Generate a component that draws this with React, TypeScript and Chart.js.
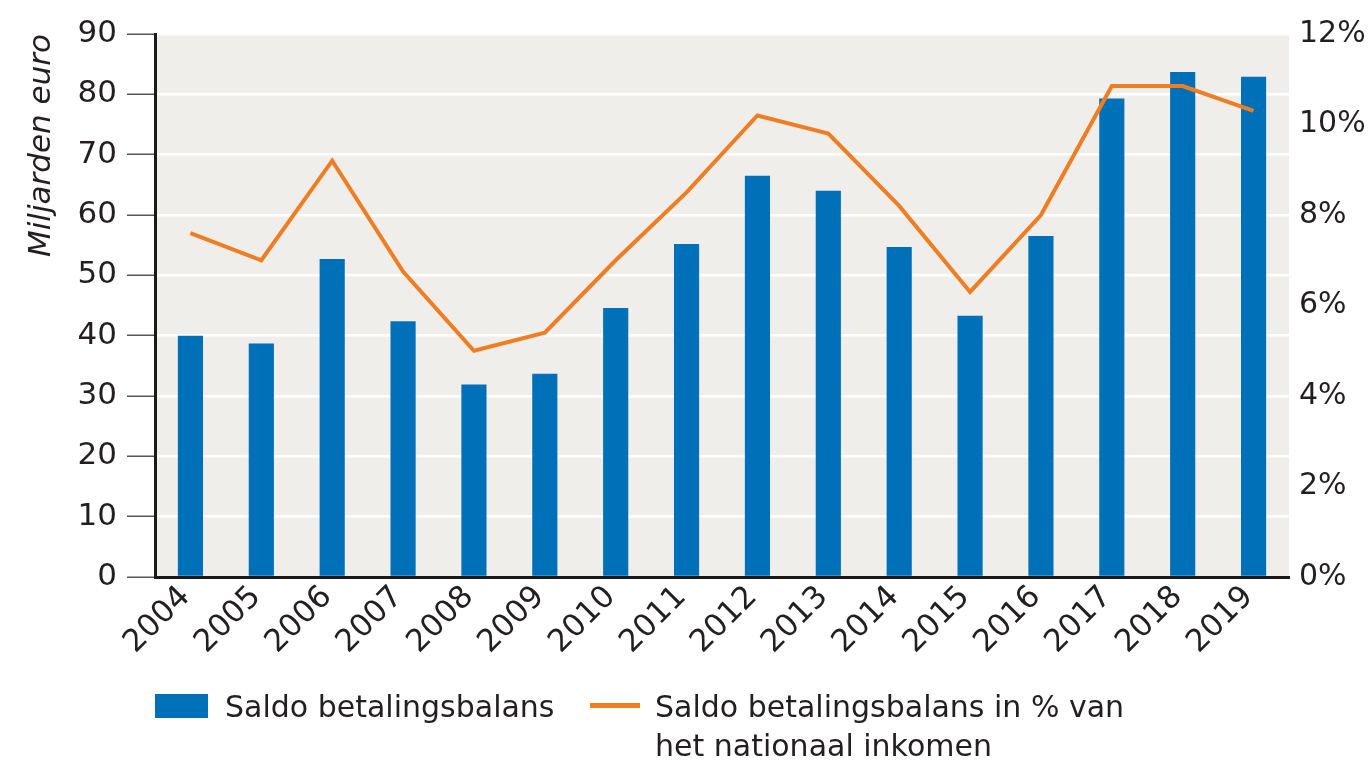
import React, { useEffect, useRef } from "react";
import { Chart, registerables } from "chart.js";

Chart.register(...registerables);

const years = ["2004","2005","2006","2007","2008","2009","2010","2011","2012","2013","2014","2015","2016","2017","2018","2019"];
const saldo = [40.0, 38.7, 52.7, 42.4, 31.9, 33.7, 44.6, 55.2, 66.5, 64.0, 54.7, 43.3, 56.5, 79.3, 83.7, 82.9];
const saldoPct = [7.6, 7.0, 9.2, 6.75, 5.0, 5.4, 7.0, 8.5, 10.2, 9.8, 8.2, 6.3, 8.0, 10.85, 10.85, 10.3];
const leftTicks = [0, 10, 20, 30, 40, 50, 60, 70, 80, 90];
const rightTicks = [0, 2, 4, 6, 8, 10, 12];

const barLabel = "Saldo betalingsbalans";
const lineLabelLines = ["Saldo betalingsbalans in % van", "het nationaal inkomen"];
const yTitle = "Miljarden euro";

const FONT = "'DejaVu Sans', Verdana, sans-serif";
const TEXT = "#231f20";
const BLUE = "#0070b8";
const ORANGE = "#ef7d22";
const BG = "#efeeeb";

const bgPlugin = {
  id: "plotBg",
  beforeDraw(chart: any) {
    const { ctx, chartArea } = chart;
    if (!chartArea) return;
    ctx.save();
    ctx.fillStyle = BG;
    ctx.fillRect(chartArea.left, chartArea.top, chartArea.right - chartArea.left, chartArea.bottom - chartArea.top);
    ctx.restore();
  },
};

export default function App() {
  const ref = useRef<HTMLCanvasElement | null>(null);

  useEffect(() => {
    if (!ref.current) return;
    const chart = new Chart(ref.current, {
      type: "bar",
      data: {
        labels: years,
        datasets: [
          {
            type: "line" as const,
            label: lineLabelLines.join(" "),
            data: saldoPct,
            yAxisID: "y1",
            borderColor: ORANGE,
            backgroundColor: ORANGE,
            borderWidth: 4,
            pointRadius: 0,
            tension: 0,
            order: 0,
          },
          {
            type: "bar" as const,
            label: barLabel,
            data: saldo,
            yAxisID: "y",
            backgroundColor: BLUE,
            categoryPercentage: 1,
            barPercentage: 0.355,
            order: 1,
          },
        ],
      },
      options: {
        animation: false,
        responsive: false,
        maintainAspectRatio: false,
        layout: { padding: { left: 0, right: 0, top: 34, bottom: 0 } },
        plugins: {
          legend: { display: false },
          tooltip: { enabled: false },
        },
        scales: {
          x: {
            grid: { display: false, drawTicks: false },
            border: { display: true, color: "#1a1a1a", width: 3 },
            ticks: {
              color: TEXT,
              font: { family: FONT, size: 31 },
              minRotation: 45,
              maxRotation: 45,
              padding: 2,
              labelOffset: -5,
              autoSkip: false,
            },
            afterFit: (s: any) => { s.height = 113; },
          },
          y: {
            position: "left",
            min: 0,
            max: 90,
            afterBuildTicks: (s: any) => { s.ticks = leftTicks.map((v) => ({ value: v })); },
            grid: {
              color: "#ffffff",
              lineWidth: 2.5,
              tickColor: "#555555",
              tickLength: 28,
              tickWidth: 1.5,
            },
            border: { display: true, color: "#1a1a1a", width: 3 },
            ticks: {
              color: TEXT,
              font: { family: FONT, size: 31 },
              padding: 10,
            },
            title: {
              display: true,
              text: yTitle,
              align: "end",
              color: TEXT,
              font: { family: FONT, size: 31, style: "italic" },
              padding: { top: 23, bottom: 0 },
            },
            afterFit: (s: any) => { s.width = 155; },
          },
          y1: {
            position: "right",
            min: 0,
            max: 12,
            afterBuildTicks: (s: any) => { s.ticks = rightTicks.map((v) => ({ value: v })); },
            grid: { drawOnChartArea: false, drawTicks: false },
            border: { display: false },
            ticks: {
              color: TEXT,
              font: { family: FONT, size: 30 },
              padding: 10,
              callback: (v: any) => v + "%",
            },
            afterFit: (s: any) => { s.width = 80; },
          },
        },
      },
      plugins: [bgPlugin],
    });
    return () => chart.destroy();
  }, []);

  return (
    <div style={{ position: "fixed", left: 0, top: 0, width: 1369, height: 760, background: "#fff", fontFamily: FONT, color: TEXT }}>
      <canvas ref={ref} width={1369} height={690} style={{ position: "absolute", left: 0, top: 0, width: 1369, height: 690 }} />
      <div style={{ position: "absolute", left: 155, top: 694, width: 53, height: 24, background: BLUE }} />
      <div style={{ position: "absolute", left: 225, top: 687, fontSize: 30, lineHeight: "39px", whiteSpace: "nowrap" }}>{barLabel}</div>
      <div style={{ position: "absolute", left: 590, top: 703, width: 50, height: 5, background: ORANGE }} />
      <div style={{ position: "absolute", left: 655, top: 687, fontSize: 30, lineHeight: "39px", whiteSpace: "nowrap" }}>
        <div>{lineLabelLines[0]}</div>
        <div>{lineLabelLines[1]}</div>
      </div>
    </div>
  );
}
